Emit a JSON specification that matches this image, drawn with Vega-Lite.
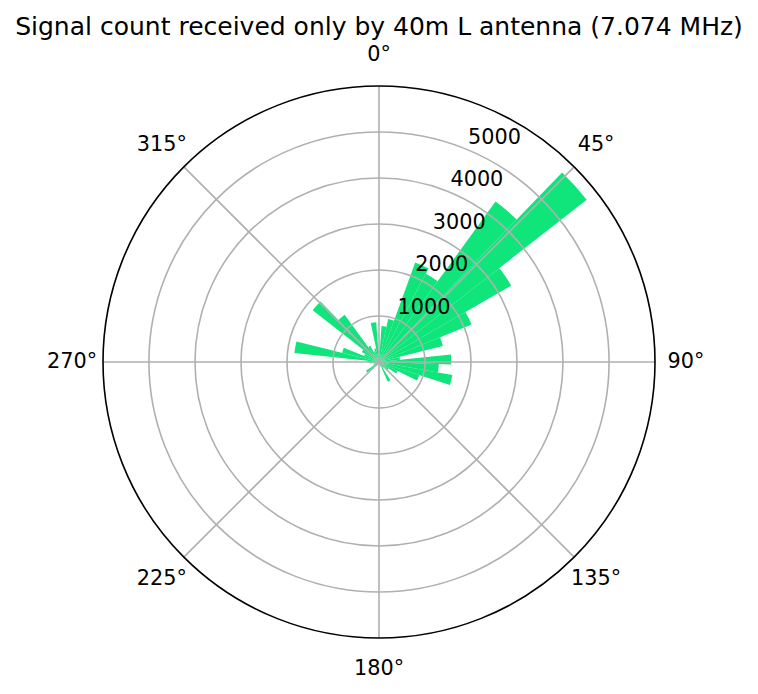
{
  "$schema": "https://vega.github.io/schema/vega-lite/v6.json",
  "width": 758,
  "height": 552,
  "autosize": "none",
  "padding": {"top": 86, "left": 0, "right": 0, "bottom": 56},
  "config": {
    "font": "DejaVu Sans",
    "view": {"stroke": null},
    "text": {"font": "DejaVu Sans"}
  },
  "title": {
    "text": "Signal count received only by 40m L antenna (7.074 MHz)",
    "fontSize": 25,
    "fontWeight": "normal",
    "font": "DejaVu Sans",
    "color": "black",
    "anchor": "middle",
    "offset": 4
  },
  "datasets": {
    "bars": [
      {"start": -4, "end": 4, "count": 250},
      {"start": 4, "end": 12, "count": 785},
      {"start": 12, "end": 20, "count": 955},
      {"start": 20, "end": 28, "count": 2300},
      {"start": 28, "end": 36, "count": 2170},
      {"start": 36, "end": 44, "count": 4310},
      {"start": 44, "end": 52, "count": 5730},
      {"start": 52, "end": 60, "count": 3320},
      {"start": 60, "end": 68, "count": 2170},
      {"start": 68, "end": 76, "count": 1430},
      {"start": 76, "end": 84, "count": 460},
      {"start": 84, "end": 92, "count": 1570},
      {"start": 92, "end": 100, "count": 1300},
      {"start": 100, "end": 108, "count": 1620},
      {"start": 108, "end": 116, "count": 920},
      {"start": 116, "end": 124, "count": 450},
      {"start": 124, "end": 132, "count": 250},
      {"start": 132, "end": 140, "count": 150},
      {"start": 140, "end": 148, "count": 150},
      {"start": 148, "end": 156, "count": 470},
      {"start": 156, "end": 164, "count": 100},
      {"start": 164, "end": 172, "count": 60},
      {"start": 172, "end": 180, "count": 50},
      {"start": 180, "end": 188, "count": 40},
      {"start": 188, "end": 196, "count": 50},
      {"start": 196, "end": 204, "count": 60},
      {"start": 204, "end": 212, "count": 80},
      {"start": 212, "end": 220, "count": 120},
      {"start": 220, "end": 228, "count": 200},
      {"start": 228, "end": 236, "count": 340},
      {"start": 236, "end": 244, "count": 150},
      {"start": 244, "end": 252, "count": 100},
      {"start": 252, "end": 260, "count": 120},
      {"start": 260, "end": 268, "count": 200},
      {"start": 268, "end": 276, "count": 250},
      {"start": 276, "end": 284, "count": 1850},
      {"start": 284, "end": 292, "count": 825},
      {"start": 292, "end": 300, "count": 350},
      {"start": 300, "end": 308, "count": 430},
      {"start": 308, "end": 316, "count": 1830},
      {"start": 316, "end": 324, "count": 1270},
      {"start": 324, "end": 332, "count": 400},
      {"start": 332, "end": 340, "count": 250},
      {"start": 340, "end": 348, "count": 300},
      {"start": 348, "end": 356, "count": 865}
    ],
    "rings": [{"r": 1000}, {"r": 2000}, {"r": 3000}, {"r": 4000}, {"r": 5000}],
    "spokes": [{"deg": 0}, {"deg": 45}, {"deg": 90}, {"deg": 135}, {"deg": 180}, {"deg": 225}, {"deg": 270}, {"deg": 315}],
    "angleLabels": [
      {"deg": 0, "label": "0°"}, {"deg": 45, "label": "45°"}, {"deg": 90, "label": "90°"}, {"deg": 135, "label": "135°"},
      {"deg": 180, "label": "180°"}, {"deg": 225, "label": "225°"}, {"deg": 270, "label": "270°"}, {"deg": 315, "label": "315°"}
    ],
    "rLabels": [
      {"r": 1000, "label": "1000"}, {"r": 2000, "label": "2000"}, {"r": 3000, "label": "3000"},
      {"r": 4000, "label": "4000"}, {"r": 5000, "label": "5000"}
    ]
  },
  "layer": [
    {
      "data": {"name": "bars"},
      "mark": {"type": "arc", "color": "#0fe57a"},
      "encoding": {
        "theta": {"field": "start", "type": "quantitative", "stack": null,
                  "scale": {"domain": [0, 360], "range": [0, 6.283185307]}},
        "theta2": {"field": "end"},
        "radius": {"field": "count", "type": "quantitative", "stack": null,
                   "scale": {"type": "linear", "domain": [0, 6000], "range": [0, 276], "zero": true}}
      }
    },
    {
      "data": {"name": "rings"},
      "mark": {"type": "arc", "filled": false, "stroke": "#b0b0b0", "strokeWidth": 1.6, "theta": 0, "theta2": 6.2832},
      "encoding": {
        "radius": {"field": "r", "type": "quantitative", "stack": null}
      }
    },
    {
      "data": {"name": "spokes"},
      "mark": {"type": "arc", "filled": false, "stroke": "#b0b0b0", "strokeWidth": 1.6},
      "encoding": {
        "theta": {"field": "deg", "type": "quantitative", "stack": null},
        "theta2": {"field": "deg"},
        "radius": {"datum": 6000, "type": "quantitative", "stack": null}
      }
    },
    {
      "data": {"values": [{"r": 6000}]},
      "mark": {"type": "arc", "filled": false, "stroke": "black", "strokeWidth": 1.6, "theta": 0, "theta2": 6.2832},
      "encoding": {
        "radius": {"field": "r", "type": "quantitative", "stack": null}
      }
    },
    {
      "data": {"name": "angleLabels"},
      "mark": {"type": "text", "fontSize": 20.8, "color": "black", "align": "center", "baseline": "middle"},
      "encoding": {
        "theta": {"field": "deg", "type": "quantitative", "stack": null},
        "radius": {"value": 307},
        "text": {"field": "label"}
      }
    },
    {
      "data": {"name": "rLabels"},
      "mark": {"type": "text", "fontSize": 20.8, "color": "black", "align": "left", "baseline": "bottom", "dx": 1, "dy": -2},
      "encoding": {
        "theta": {"datum": 22.5, "type": "quantitative"},
        "radius": {"field": "r", "type": "quantitative", "stack": null},
        "text": {"field": "label"}
      }
    }
  ]
}
